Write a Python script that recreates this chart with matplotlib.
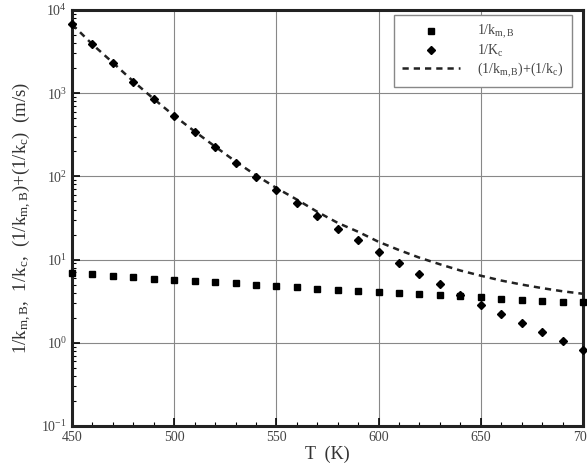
import numpy as np
import matplotlib
matplotlib.use('Agg')
import matplotlib.pyplot as plt
from matplotlib.ticker import LogLocator, MultipleLocator, NullFormatter

plt.rcParams['font.family'] = ['Liberation Serif', 'DejaVu Serif']
plt.rcParams['mathtext.fontset'] = 'custom'
plt.rcParams['mathtext.rm'] = 'Liberation Serif'
plt.rcParams['mathtext.it'] = 'Liberation Serif'

T = np.arange(450, 701, 10)
inv_kmB = [6.85, 6.66, 6.41, 6.18, 5.90, 5.69, 5.53, 5.33, 5.19, 5.00, 4.77, 4.65, 4.44,
           4.32, 4.19, 4.04, 3.96, 3.86, 3.71, 3.65, 3.52, 3.39, 3.30, 3.21, 3.12, 3.06]
inv_kc = [6720, 3850, 2320, 1380, 847, 529, 342, 223, 146, 98, 67.8, 48, 33.1,
          23.3, 17.4, 12.3, 9.06, 6.68, 5.07, 3.74, 2.88, 2.21, 1.71, 1.33, 1.04, 0.82]
total = np.array(inv_kmB) + np.array(inv_kc)

fig = plt.figure(figsize=(5.87, 4.65), dpi=100)
ax = fig.add_axes([0.1227, 0.0839, 0.8705, 0.8946])

ax.plot(T, inv_kmB, 's', color='black', ms=4.2, label=r'1/k$_{\mathrm{m,B}}$', clip_on=False, zorder=3)
ax.plot(T, inv_kc, 'D', color='black', ms=4.2, label=r'1/K$_{\mathrm{c}}$', clip_on=False, zorder=3)
ax.plot(T, total, '--', color='#222222', lw=1.8, dashes=(2.5, 2),
        label=r'(1/k$_{\mathrm{m,B}}$)+(1/k$_{\mathrm{c}}$)', zorder=2)

ax.set_yscale('log')
ax.set_xlim(450, 700)
ax.set_ylim(0.1, 1e4)
ax.xaxis.set_major_locator(MultipleLocator(50))
ax.xaxis.set_minor_locator(MultipleLocator(10))
ax.yaxis.set_minor_locator(LogLocator(base=10, subs=np.arange(2, 10), numticks=20))
ax.yaxis.set_minor_formatter(NullFormatter())
ax.set_yticks([0.1, 1, 10, 100, 1000, 10000])
ax.set_yticklabels([r'10$^{-1}$', r'10$^{0}$', r'10$^{1}$', r'10$^{2}$', r'10$^{3}$', r'10$^{4}$'])

ax.grid(True, which='major', color='#888888', lw=0.8)
ax.tick_params(which='both', direction='in', colors='black', labelcolor='#444444', labelsize=10)
ax.tick_params(which='major', length=6, width=1.2, top=False, right=False)
ax.tick_params(which='minor', length=3, width=0.8, top=False, right=False)
for s in ax.spines.values():
    s.set_linewidth(2.2)
    s.set_color('#222222')

ax.set_xlabel('T  (K)', fontsize=13, color='#333333', labelpad=1)
ax.set_ylabel(r'1/k$_{\mathrm{m,B}}$,  1/k$_{\mathrm{c}}$,  (1/k$_{\mathrm{m,B}}$)+(1/k$_{\mathrm{c}}$)  (m/s)',
              fontsize=13.5, color='#333333', labelpad=6)

leg = ax.legend(loc='upper right', fontsize=10, frameon=True, fancybox=False,
                edgecolor='#888888', framealpha=1, handlelength=4.2, borderpad=0.6,
                labelspacing=0.1, handletextpad=1.2, borderaxespad=0,
                bbox_to_anchor=(0.978, 0.988))
for t in leg.get_texts():
    t.set_color('#444444')

fig.savefig('out.png', dpi=100)
